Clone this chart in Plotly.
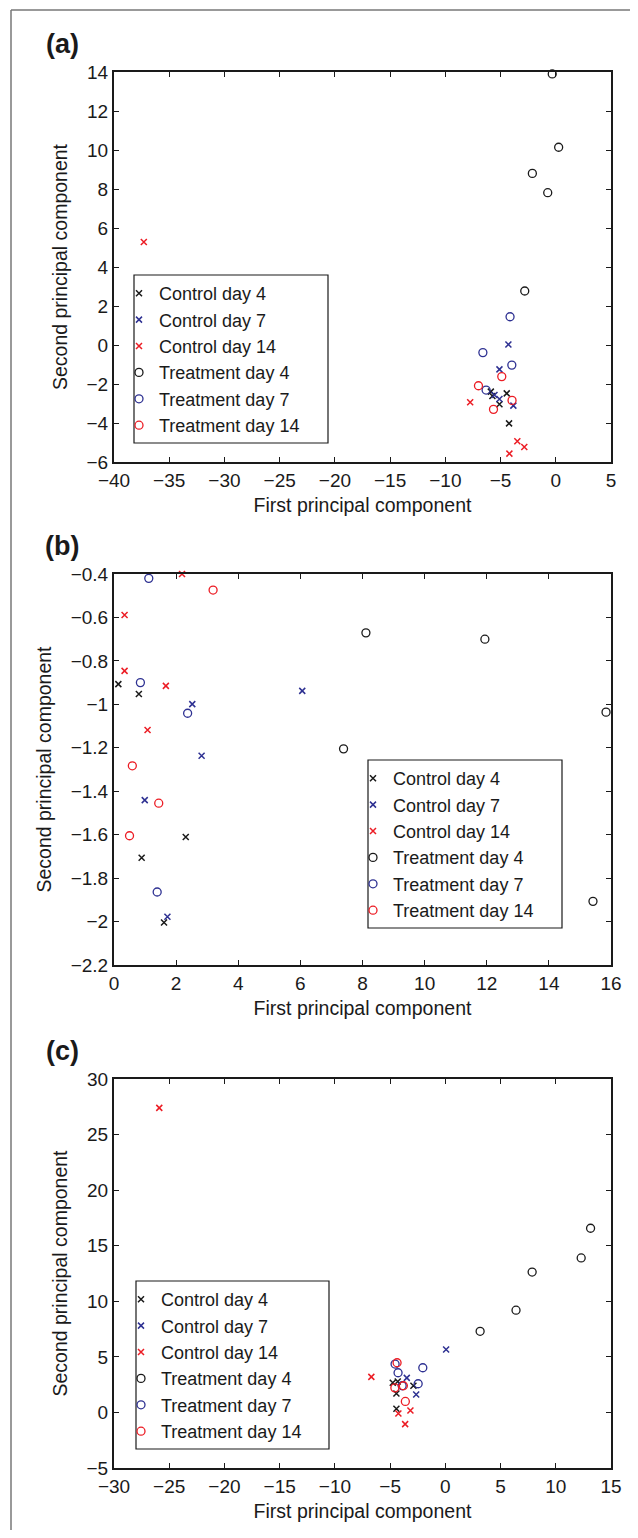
import plotly.graph_objects as go

# The page body has an 8px default margin; the figure is sized so that it
# fits in the 638x1538 window, and reference pixel positions are shifted by it.
OFF = 8
W, H = 638 - 2 * OFF, 1538 - 2 * OFF

# ---------------- data ----------------
series_names = ["Control day 4", "Control day 7", "Control day 14",
                "Treatment day 4", "Treatment day 7", "Treatment day 14"]

# Panel (a)
a_c4_x = [-5.88, -5.74, -4.44, -5.10, -4.23]
a_c4_y = [-2.39, -2.62, -2.48, -3.04, -4.02]
a_c7_x = [-4.29, -5.10, -5.55, -5.10, -3.84]
a_c7_y = [0.03, -1.25, -2.56, -2.77, -3.11]
a_c14_x = [-37.3, -7.75, -3.48, -2.85, -4.20]
a_c14_y = [5.28, -2.94, -4.94, -5.23, -5.57]
a_t4_x = [-0.32, 0.26, -2.12, -0.73, -2.81]
a_t4_y = [13.9, 10.14, 8.80, 7.81, 2.77]
a_t7_x = [-4.14, -6.60, -3.98, -6.31]
a_t7_y = [1.45, -0.39, -1.03, -2.31]
a_t14_x = [-4.89, -7.00, -3.96, -5.64]
a_t14_y = [-1.62, -2.09, -2.84, -3.30]

# Panel (b)
b_c4_x = [0.14, 0.80, 2.31, 0.89, 1.61]
b_c4_y = [-0.907, -0.952, -1.611, -1.706, -2.004]
b_c7_x = [2.52, 2.82, 6.06, 0.99, 1.72]
b_c7_y = [-0.999, -1.237, -0.938, -1.441, -1.978]
b_c14_x = [2.19, 0.34, 0.34, 1.67, 1.08]
b_c14_y = [-0.400, -0.589, -0.846, -0.915, -1.118]
b_t4_x = [8.11, 11.94, 15.84, 7.39, 15.42]
b_t4_y = [-0.671, -0.700, -1.036, -1.205, -1.907]
b_t7_x = [1.12, 0.85, 2.37, 1.39]
b_t7_y = [-0.420, -0.900, -1.041, -1.864]
b_t14_x = [3.19, 0.59, 1.44, 0.50]
b_t14_y = [-0.474, -1.283, -1.455, -1.605]

# Panel (c)
c_c4_x = [-4.76, -4.31, -2.89, -4.43, -4.43]
c_c4_y = [2.67, 2.79, 2.40, 1.71, 0.33]
c_c7_x = [0.07, -3.49, -2.64]
c_c7_y = [5.67, 3.11, 1.62]
c_c14_x = [-25.9, -6.70, -4.25, -3.16, -3.64]
c_c14_y = [27.4, 3.20, -0.09, 0.18, -1.05]
c_t4_x = [13.15, 12.30, 7.86, 6.40, 3.15]
c_t4_y = [16.57, 13.90, 12.63, 9.20, 7.30]
c_t7_x = [-4.55, -2.04, -4.28, -3.91, -2.46]
c_t7_y = [4.35, 4.02, 3.57, 2.40, 2.58]
c_t14_x = [-4.37, -4.57, -3.80, -3.62]
c_t14_y = [4.47, 2.21, 2.40, 0.99]

# tick labels
a_xticks = [-40, -35, -30, -25, -20, -15, -10, -5, 0, 5]
a_xtext = ["\u221240", "\u221235", "\u221230", "\u221225", "\u221220", "\u221215", "\u221210", "\u22125", "0", "5"]
a_yticks = [-6, -4, -2, 0, 2, 4, 6, 8, 10, 12, 14]
a_ytext = ["\u22126", "\u22124", "\u22122", "0", "2", "4", "6", "8", "10", "12", "14"]
b_xticks = [0, 2, 4, 6, 8, 10, 12, 14, 16]
b_xtext = ["0", "2", "4", "6", "8", "10", "12", "14", "16"]
b_yticks = [-2.2, -2.0, -1.8, -1.6, -1.4, -1.2, -1.0, -0.8, -0.6, -0.4]
b_ytext = ["\u22122.2", "\u22122", "\u22121.8", "\u22121.6", "\u22121.4", "\u22121.2", "\u22121", "\u22120.8", "\u22120.6", "\u22120.4"]
c_xticks = [-30, -25, -20, -15, -10, -5, 0, 5, 10, 15]
c_xtext = ["\u221230", "\u221225", "\u221220", "\u221215", "\u221210", "\u22125", "0", "5", "10", "15"]
c_yticks = [-5, 0, 5, 10, 15, 20, 25, 30]
c_ytext = ["\u22125", "0", "5", "10", "15", "20", "25", "30"]

x_label = "First principal component"
y_label = "Second principal component"
panel_labels = ["(a)", "(b)", "(c)"]

# ---------------- style ----------------
FONT = "Liberation Sans, Arial, Helvetica, sans-serif"
TXT = "#1a1a1a"
BLACK = "#1a1a1a"
BLUE = "#2e3192"
RED = "#ec1c24"
colors = [BLACK, BLUE, RED, BLACK, BLUE, RED]
symbols = ["x-thin-open", "x-thin-open", "x-thin-open", "circle-open", "circle-open", "circle-open"]
sizes = [6, 6, 6, 8, 8, 8]


def px(x):
    return (x - OFF) / W


def py(y):
    return 1 - (y - OFF) / H


panels = [
    dict(data=[(a_c4_x, a_c4_y), (a_c7_x, a_c7_y), (a_c14_x, a_c14_y),
               (a_t4_x, a_t4_y), (a_t7_x, a_t7_y), (a_t14_x, a_t14_y)],
         xr=[-40, 5], yr=[-6, 14], xt=(a_xticks, a_xtext), yt=(a_yticks, a_ytext),
         top=72, bot=462, legbox=(134, 275, 328, 443)),
    dict(data=[(b_c4_x, b_c4_y), (b_c7_x, b_c7_y), (b_c14_x, b_c14_y),
               (b_t4_x, b_t4_y), (b_t7_x, b_t7_y), (b_t14_x, b_t14_y)],
         xr=[0, 16], yr=[-2.2, -0.4], xt=(b_xticks, b_xtext), yt=(b_yticks, b_ytext),
         top=574, bot=965, legbox=(368, 760, 562, 928)),
    dict(data=[(c_c4_x, c_c4_y), (c_c7_x, c_c7_y), (c_c14_x, c_c14_y),
               (c_t4_x, c_t4_y), (c_t7_x, c_t7_y), (c_t14_x, c_t14_y)],
         xr=[-30, 15], yr=[-5, 30], xt=(c_xticks, c_xtext), yt=(c_yticks, c_ytext),
         top=1079, bot=1468, legbox=(136, 1281, 329, 1449)),
]

LEFT, RIGHT = 114, 611

fig = go.Figure()
layout = dict(
    width=W, height=H,
    margin=dict(l=0, r=0, t=0, b=0),
    paper_bgcolor="white", plot_bgcolor="white",
    font=dict(family=FONT, size=19, color=TXT),
    showlegend=True,
    shapes=[], annotations=[],
)

for i, p in enumerate(panels):
    n = "" if i == 0 else str(i + 1)
    xa, ya = "x" + n, "y" + n
    leg = "legend" + n
    for k, (xs, ys) in enumerate(p["data"]):
        fig.add_trace(go.Scatter(
            x=xs, y=ys, mode="markers", name=series_names[k],
            xaxis=xa, yaxis=ya, legend=leg, cliponaxis=False,
            marker=dict(symbol=symbols[k], size=sizes[k], color=colors[k],
                        line=dict(color=colors[k], width=1.5 if k < 3 else 1.3)),
        ))
    common = dict(showgrid=False, zeroline=False, showline=True, linecolor=BLACK,
                  linewidth=2, mirror="ticks", ticks="inside", ticklen=5,
                  tickwidth=1.2, tickcolor=BLACK, automargin=False,
                  tickfont=dict(family=FONT, size=19, color=TXT))
    layout["xaxis" + n] = dict(common, domain=[px(LEFT), px(RIGHT)], range=p["xr"],
                               anchor=ya, tickvals=p["xt"][0], ticktext=p["xt"][1],
                               title=dict(text=x_label, standoff=9,
                                          font=dict(family=FONT, size=19.5, color=TXT)))
    layout["yaxis" + n] = dict(common, domain=[py(p["bot"]), py(p["top"])], range=p["yr"],
                               anchor=xa, tickvals=p["yt"][0], ticktext=p["yt"][1],
                               title=dict(text=y_label, standoff=14,
                                          font=dict(family=FONT, size=19.5, color=TXT)))
    bx0, by0, bx1, by1 = p["legbox"]
    layout[leg] = dict(x=px(bx0 - 15), y=py(by0), xanchor="left", yanchor="top",
                       bgcolor="rgba(0,0,0,0)", borderwidth=0, tracegroupgap=0,
                       font=dict(family=FONT, size=18, color=TXT))
    layout["shapes"].append(dict(type="rect", xref="paper", yref="paper",
                                 x0=px(bx0), x1=px(bx1), y0=py(by1), y1=py(by0),
                                 line=dict(color=BLACK, width=1.2)))
    layout["annotations"].append(dict(text="<b>" + panel_labels[i] + "</b>", xref="paper", yref="paper",
                                      x=px(62), y=py(p["top"] - 28), xanchor="center", yanchor="middle",
                                      showarrow=False, font=dict(family=FONT, size=27, color=TXT)))

# outer frame (left and top edges)
layout["shapes"].append(dict(type="line", xref="paper", yref="paper",
                             x0=px(11), x1=px(11), y0=-0.05, y1=py(10),
                             line=dict(color="#777777", width=1.5)))
layout["shapes"].append(dict(type="line", xref="paper", yref="paper",
                             x0=px(11), x1=1.05, y0=py(10), y1=py(10),
                             line=dict(color="#777777", width=1.5)))

fig.update_layout(**layout)
fig.write_html("out.html")
